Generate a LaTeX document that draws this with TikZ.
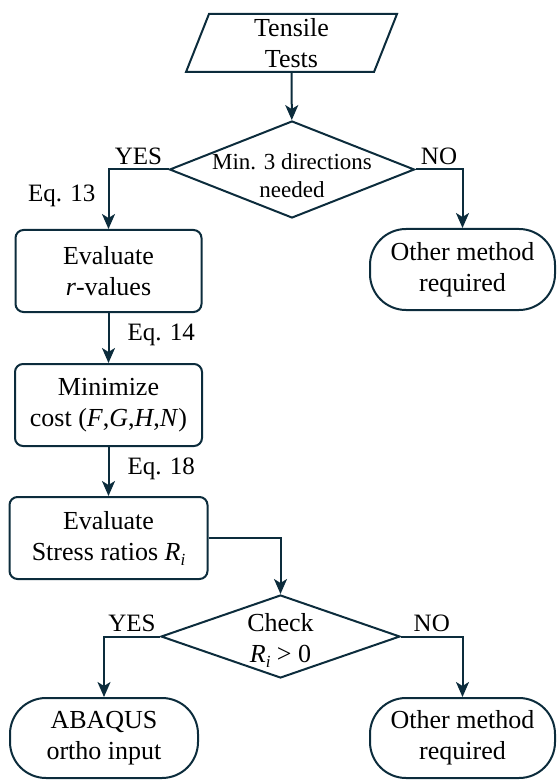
\documentclass[tikz,border=0pt]{standalone}
\usepackage{fontspec}
\setmainfont{Liberation Serif}
\usetikzlibrary{shapes.geometric, arrows.meta}
\definecolor{flowline}{RGB}{12,44,60}

\newcommand{\dtext}[2]{\smash{\makebox[0pt]{\raisebox{#1}{\begin{tabular}{@{}c@{}}#2\end{tabular}}}}}
\newcommand{\Ri}{\textit{R}\raisebox{-2.5pt}{\fontsize{8.5}{9}\selectfont\textit{i}}}

\tikzset{
    base/.style={draw=flowline, line width=1pt, inner sep=0pt, align=center, font=\fontsize{13}{15.5}\selectfont},
    io/.style={base, trapezium, trapezium left angle=65, trapezium right angle=115, trapezium stretches body, minimum width=105.5pt, minimum height=29pt},
    process/.style={base, rectangle, rounded corners=4pt, minimum height=41pt},
    terminal/.style={base, rectangle, rounded corners=18pt, minimum width=92.5pt, minimum height=40.5pt},
    decision/.style={base, diamond},
    flow/.style={draw=flowline, line width=1pt, -{Stealth[length=7.5pt, width=6.5pt, inset=2pt]}},
    eqlabel/.style={font=\fontsize{12.5}{15}\selectfont, inner sep=6pt},
}

\begin{document}
\begin{tikzpicture}[x=0.5pt, y=-0.5pt]
    % Fix the page size
    \useasboundingbox (0,0) rectangle (556,780);

    % Draw the blocks
    \node[io] (tests) at (291.5,43) {Tensile\\Tests};
    \node[decision, minimum width=122.5pt, minimum height=48.5pt] (dirs) at (292,169.5)
        {\fontsize{11.5}{14}\selectfont\dtext{-7pt}{Min. 3 directions\\needed}};
    \node[process, minimum width=93pt] (rvalues) at (108.5,271) {Evaluate\\\textit{r}-values};
    \node[terminal] (otherA) at (462.5,269.5) {Other method\\required};
    \node[process, minimum width=93.5pt] (cost) at (108.5,405) {Minimize\\cost (\textit{F},\textit{G},\textit{H},\textit{N})};
    \node[process, minimum width=99pt] (ratios) at (108.5,538) {Evaluate\\Stress ratios \Ri};
    \node[decision, minimum width=119.5pt, minimum height=41.5pt] (check) at (280.5,636.5)
        {\dtext{-5pt}{Check\\\Ri{} > 0}};
    \node[terminal, minimum width=94pt, minimum height=40pt] (abaqus) at (104,738) {ABAQUS\\ortho input};
    \node[terminal, minimum height=40pt] (otherB) at (462.5,738) {Other method\\required};

    % Draw the arrows
    \draw[flow] (tests) -- (dirs);
    \draw[flow] (dirs.west) -| node[eqlabel, pos=0.25, above, inner sep=2pt] {YES}
        node[eqlabel, pos=0.72, left] {Eq. 13} (rvalues.north);
    \draw[flow] (dirs.east) -| node[eqlabel, pos=0.25, above, inner sep=2pt] {NO} (otherA.north);
    \draw[flow] (rvalues) -- node[eqlabel, right, xshift=3pt, yshift=1.5pt] {Eq. 14} (cost);
    \draw[flow] (cost) -- node[eqlabel, right, xshift=3pt, yshift=1.5pt] {Eq. 18} (ratios);
    \draw[flow] (ratios.east) -| (check.north);
    \draw[flow] (check.west) -| node[eqlabel, pos=0.25, above, inner sep=2pt] {YES} (abaqus.north);
    \draw[flow] (check.east) -| node[eqlabel, pos=0.25, above, inner sep=2pt] {NO} (otherB.north);
\end{tikzpicture}
\end{document}
